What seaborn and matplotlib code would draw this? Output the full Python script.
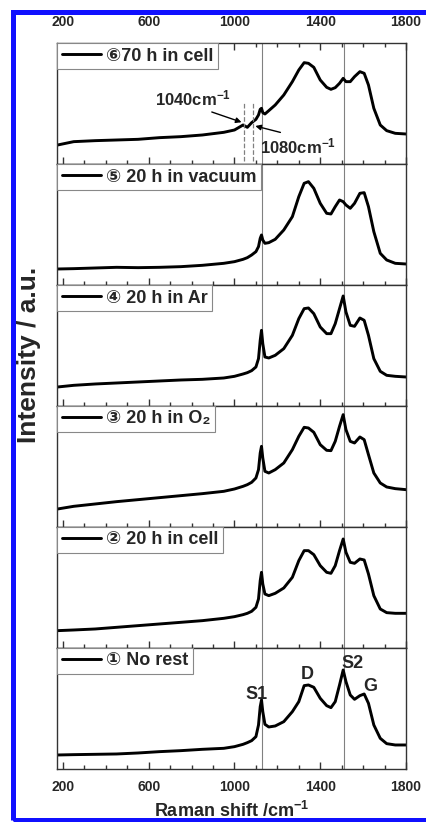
import matplotlib
matplotlib.use("Agg")
import matplotlib.pyplot as plt
import matplotlib.patches as patches
from matplotlib.ticker import MultipleLocator
import pandas as pd
import seaborn as sns

# Raman shift grid (cm-1) shared by all spectra
shift = [175, 250, 350, 450, 550, 650, 750, 850, 950, 1000, 1040, 1060, 1080,
         1100, 1112, 1120, 1126, 1132, 1142, 1160, 1190, 1230, 1270, 1300,
         1325, 1345, 1370, 1400, 1430, 1450, 1470, 1490, 1507, 1520, 1540,
         1560, 1585, 1605, 1625, 1650, 1680, 1710, 1750, 1800]

# intensities (arbitrary units), top panel first
cell_70h = [57, 67, 70, 72, 74, 79, 82, 87, 95, 102, 117, 110, 124, 134, 147,
            164, 167, 154, 150, 160, 177, 207, 247, 282, 304, 302, 290, 252,
            230, 224, 229, 242, 257, 247, 247, 262, 277, 272, 237, 167, 117,
            100, 92, 90]
vacuum_20h = [48, 49, 51, 53, 52, 53, 55, 59, 65, 70, 77, 82, 90, 100, 115,
              140, 150, 135, 125, 127, 137, 165, 205, 265, 305, 310, 290, 245,
              215, 213, 235, 255, 250, 240, 230, 245, 275, 277, 235, 160, 95,
              75, 65, 63]
ar_20h = [57, 62, 66, 69, 72, 75, 78, 80, 84, 89, 96, 100, 106, 117, 142, 197,
          227, 187, 147, 144, 152, 172, 212, 262, 292, 294, 277, 237, 217, 217,
          247, 292, 330, 282, 242, 239, 264, 257, 212, 142, 104, 92, 89, 87]
o2_20h = [54, 62, 69, 76, 82, 88, 94, 100, 107, 114, 122, 127, 134, 147, 172,
          222, 242, 207, 167, 162, 172, 192, 232, 272, 299, 297, 284, 247, 230,
          229, 257, 302, 337, 292, 257, 252, 270, 262, 217, 162, 132, 120, 115,
          112]
cell_20h = [52, 54, 57, 62, 67, 72, 77, 82, 89, 94, 100, 104, 110, 122, 147,
            202, 227, 192, 162, 157, 164, 180, 212, 262, 292, 292, 280, 247,
            227, 224, 247, 292, 327, 287, 257, 254, 267, 264, 222, 157, 117,
            106, 104, 104]
no_rest = [42, 43, 44, 45, 48, 52, 55, 59, 62, 67, 74, 79, 85, 97, 132, 187,
           207, 172, 134, 126, 129, 142, 172, 202, 250, 252, 245, 212, 190,
           184, 202, 252, 297, 262, 222, 209, 220, 225, 197, 132, 92, 76, 72,
           72]

labels = ["\u2465" + "70 h in cell", "\u2464 20 h in vacuum", "\u2463 20 h in Ar",
          "\u2462 20 h in O\u2082", "\u2461 20 h in cell", "\u2460 No rest"]
spectra = [cell_70h, vacuum_20h, ar_20h, o2_20h, cell_20h, no_rest]

ref_lines = [1128, 1510]
dash_lines = [1045, 1085]
peak_names = ["S1", "D", "S2", "G"]
peak_pos = [(1104, 222), (1340, 282), (1550, 317), (1632, 247)]

sns.set_style("ticks")
plt.rcParams['font.family'] = ['Liberation Sans', 'DejaVu Sans']
plt.rcParams['font.weight'] = 'bold'
plt.rcParams['mathtext.fontset'] = 'custom'
plt.rcParams['mathtext.bf'] = 'Liberation Sans:bold'
plt.rcParams['mathtext.rm'] = 'Liberation Sans:bold'
plt.rcParams['mathtext.default'] = 'bf'

fig, axes = plt.subplots(6, 1, figsize=(4.26, 8.22), dpi=100, sharex=True)
fig.subplots_adjust(left=0.1338, right=0.953, top=0.9477, bottom=0.0645, hspace=0)

for i, ax in enumerate(axes):
    df = pd.DataFrame({"shift": shift, "intensity": spectra[i]})
    sns.lineplot(data=df, x="shift", y="intensity", ax=ax, color="black",
                 lw=2.1, label=labels[i])
    for xv in ref_lines:
        ax.axvline(xv, color="#808080", lw=0.8, zorder=1)
    ax.set_xlim(172, 1800)
    ax.set_ylim(0, 363)
    ax.set_yticks([])
    ax.set_ylabel("")
    ax.set_xlabel("")
    ax.set_xticks([200, 600, 1000, 1400, 1800])
    ax.xaxis.set_minor_locator(MultipleLocator(100))
    ax.tick_params(axis="x", which="major", direction="in", length=5, width=1,
                   labelsize=10, pad=8, labelbottom=False, color="#333333")
    ax.tick_params(axis="x", which="minor", direction="in", length=3, width=1,
                   color="#333333")
    for sp in ax.spines.values():
        sp.set_linewidth(1.0)
        sp.set_color("#333333")
    leg = ax.legend(loc="upper left", bbox_to_anchor=(0, 1), borderaxespad=0,
                    fancybox=False, framealpha=1, edgecolor="#888888",
                    handlelength=2.2, handletextpad=0.25, borderpad=0.25,
                    prop={"size": 13, "weight": "bold"})
    leg.get_frame().set_linewidth(0.8)

top = axes[0]
top.tick_params(axis="x", which="both", top=True, labeltop=True)
top.tick_params(axis="x", which="major", pad=10)
top.vlines(dash_lines, 10, 182, colors="#808080", linestyles="--", lw=0.9)
top.annotate("1040cm$^{-1}$", xy=(1039, 124), xytext=(808, 197), ha="center",
             va="center", fontsize=12, fontweight="bold",
             arrowprops=dict(arrowstyle="-|>", color="black", lw=1,
                             mutation_scale=8, relpos=(0.6, 0), shrinkA=1,
                             shrinkB=1))
top.annotate("1080cm$^{-1}$", xy=(1091, 115), xytext=(1298, 54), ha="center",
             va="center", fontsize=12, fontweight="bold",
             arrowprops=dict(arrowstyle="-|>", color="black", lw=1,
                             mutation_scale=8, relpos=(0.45, 1), shrinkA=1,
                             shrinkB=1))

bottom = axes[-1]
bottom.tick_params(axis="x", which="major", labelbottom=True)
for name, (px, py) in zip(peak_names, peak_pos):
    bottom.text(px, py, name, ha="center", va="center", fontsize=13,
                fontweight="bold")
bottom.set_xlabel("Raman shift /cm$^{-1}$", fontsize=13, fontweight="bold",
                  labelpad=5)

fig.text(29 / 426, 1 - 355 / 822, "Intensity / a.u.", rotation=90,
         ha="center", va="center", fontsize=19, fontweight="bold")

# blue frame around the figure
fig.patches.append(patches.Rectangle((12.5 / 426, 2.5 / 822), 1.1, 1 - 15 / 822,
                                     transform=fig.transFigure, fill=False,
                                     edgecolor="#1010ff", lw=3.6,
                                     clip_on=False))

fig.savefig("out.png", dpi=100)
